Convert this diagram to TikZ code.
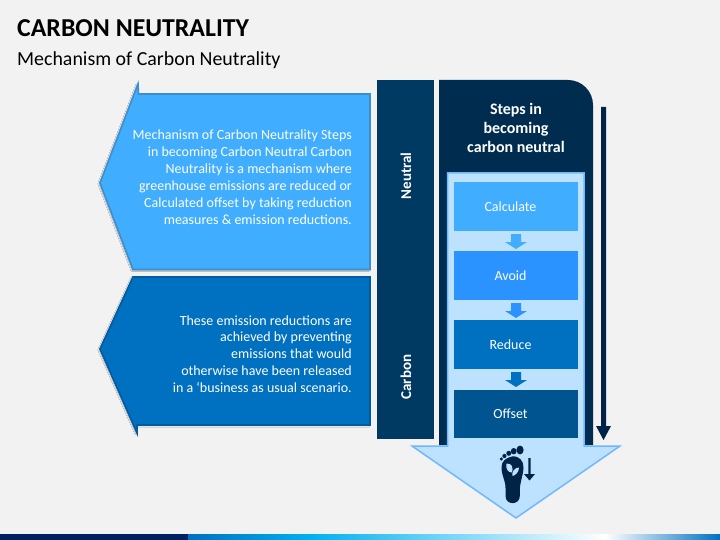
\documentclass[tikz,border=0pt]{standalone}
\usepackage{fontspec}
\setmainfont{Carlito}
\usetikzlibrary{shadows.blur}
\definecolor{bgc}{HTML}{F2F2F2}
\definecolor{navyA}{HTML}{002D4F}
\definecolor{navyB}{HTML}{003A63}
\definecolor{panelA}{HTML}{40ADFF}
\definecolor{panelAe}{HTML}{3A8FD0}
\definecolor{panelB}{HTML}{0070C0}
\definecolor{panelBe}{HTML}{005CA0}
\definecolor{stepB}{HTML}{2B93FF}
\definecolor{stepD}{HTML}{00548F}
\definecolor{lightF}{HTML}{BDE2FF}
\definecolor{lightE}{HTML}{6FB7FF}
\definecolor{footc}{HTML}{002347}
\definecolor{barNavy}{HTML}{002060}
\definecolor{barCyan}{HTML}{00B0F0}
\pgfdeclarehorizontalshading{barshade}{100bp}{color(0bp)=(panelB);color(25bp)=(panelB);color(36.5bp)=(barCyan);color(64.2bp)=(white);color(75bp)=(panelB);color(100bp)=(panelB)}
\newcommand{\steplabel}[1]{\hspace*{-11pt}#1}
\tikzset{
  panelshape/.style={line width=1.6pt,line join=miter,blur shadow={shadow blur steps=5,shadow xshift=-1pt,shadow yshift=-0.8pt,shadow blur radius=1.2pt,shadow opacity=30}},
  bodytext/.style={anchor=east,align=right,text=white,font=\fontsize{14}{16.9}\selectfont,inner sep=0pt},
  stepbox/.style={minimum width=124pt,inner sep=0pt,text=white,font=\fontsize{14}{16}\selectfont},
  sidetext/.style={rotate=90,text=white,font=\fontsize{15}{17}\bfseries\selectfont,inner sep=0pt},
}
\begin{document}
\begin{tikzpicture}[x=1pt,y=-1pt]
\useasboundingbox (0,0) rectangle (720,540);
\fill[bgc] (0,0) rectangle (720,540);
% footer bar
\fill[barNavy] (0,534) rectangle (188,540);
\shade[shading=barshade] (188,534) rectangle (720,540);
% titles
\node[anchor=base west,inner sep=0pt,font=\fontsize{25.8}{28}\bfseries\selectfont] (title) at (17,36.5) {CARBON NEUTRALITY};
\node[anchor=base west,inner sep=0pt,font=\fontsize{19.9}{23}\selectfont] (subtitle) at (17,66) {Mechanism of Carbon Neutrality};
% left panels
\path[panelshape,fill=panelA,draw=panelAe] (138,84) -- (138.5,94) -- (370,94) -- (370,269.5) -- (133,269.5) -- (100,183) -- cycle;
\path[panelshape,fill=panelB,draw=panelBe] (133,277) -- (370,277) -- (370,425) -- (137,425) -- (137,433) -- (100,349) -- cycle;
\node[bodytext] (textA) at (352,177) {Mechanism of Carbon Neutrality Steps\\in becoming Carbon Neutral Carbon\\Neutrality is a mechanism where\\greenhouse emissions are reduced or\\Calculated offset by taking reduction\\measures \& emission reductions.};
\node[bodytext] (textB) at (352,354) {These emission reductions are\\achieved by preventing\\emissions that would\\otherwise have been released\\in a ‘business as usual scenario.};
% side bar
\fill[navyB] (377,80) rectangle (434,439);
\node[sidetext] (neutral) at (406,176) {Neutral};
\node[sidetext] (carbon) at (406,377) {Carbon};
% steps column
\fill[navyA] (439,80) -- (568,80) .. controls (581.8,80) and (593,91.2) .. (593,105) -- (593,445) -- (439,445) -- cycle;
\node[align=center,text=white,inner sep=0pt,font=\fontsize{16}{19}\bfseries\selectfont] (head) at (516,128) {Steps in\\becoming\\carbon neutral};
% long arrow
\fill[footc] (601,107) -- (606,107) -- (606,426) -- (611,426) -- (603.5,440) -- (596,426) -- (601,426) -- cycle;
% big light arrow
\path[fill=lightF,draw=lightE,line width=1.5pt,line join=miter] (447.5,173) -- (584,173) -- (584,446) -- (620,446) -- (516,518) -- (412,446) -- (447.5,446) -- cycle;
% step boxes
\node[stepbox,fill=panelA,minimum height=49pt] (calc) at (516,206.5) {\steplabel{Calculate}};
\node[stepbox,fill=stepB,minimum height=49pt] (avoid) at (516,275.5) {\steplabel{Avoid}};
\node[stepbox,fill=panelB,minimum height=49pt] (reduce) at (516,344.5) {\steplabel{Reduce}};
\node[stepbox,fill=stepD,minimum height=48pt] (offset) at (516,414) {\steplabel{Offset}};
% small arrows
\foreach \yy/\cc in {234/panelA,303/stepB,372/panelB}{
  \fill[\cc] (511,\yy) -- (521,\yy) -- (521,\yy+8) -- (527,\yy+8) -- (516,\yy+15) -- (505,\yy+8) -- (511,\yy+8) -- cycle;
}
% footprint
\fill[footc] (512,456.5) .. controls (519,455.5) and (524,461) .. (523.5,468) .. controls (523,476) and (520,482) .. (519.8,490) -- (519.8,496) .. controls (519.8,505.5) and (505.5,505.5) .. (505.5,496) -- (505.5,488) .. controls (505.5,480) and (501.5,476) .. (501.5,467) .. controls (501.5,461) and (506.5,457.5) .. (512,456.5) -- cycle;
\fill[footc] (520,450) ellipse[x radius=3.6,y radius=4.4];
\fill[footc] (513.7,451.2) ellipse[x radius=2.9,y radius=3.2];
\fill[footc] (508.8,453.3) circle[radius=2.5];
\fill[footc] (504.4,456) circle[radius=2.1];
\fill[footc] (501.4,459) circle[radius=1.7];
\fill[lightF] (506.5,463.5) .. controls (512,463) and (513.5,468) .. (512,472.5) .. controls (508,472.5) and (505.5,469) .. (506.5,463.5) -- cycle;
\fill[lightF] (519,467.5) .. controls (519,472) and (515.5,475.5) .. (512.5,476) .. controls (511.5,472) and (514.5,467.5) .. (519,467.5) -- cycle;
% small down arrow
\fill[footc] (528.3,458) -- (530.7,458) -- (530.7,474) -- (535,474) -- (529.5,480.5) -- (524,474) -- (528.3,474) -- cycle;
\end{tikzpicture}
\end{document}
